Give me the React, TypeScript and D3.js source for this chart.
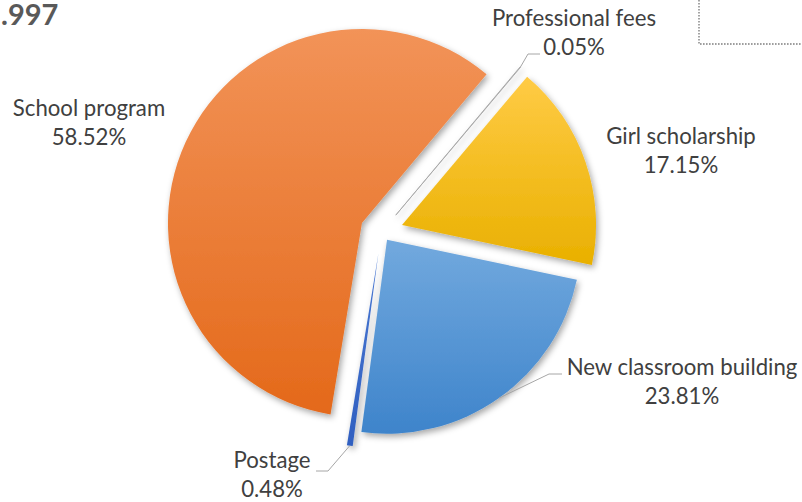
import React from "react";
import * as d3 from "d3";

const categories = ["Postage", "School program", "Professional fees", "Girl scholarship", "New classroom building"];
const values = [0.48, 58.52, 0.05, 17.15, 23.81];
const pctLabels = ["0.48%", "58.52%", "0.05%", "17.15%", "23.81%"];
const titleText = ".997";
const explode = [22, 21.6, 22, 21.6, 9.4];
const colorsTop = ["#4A78D2", "#F29358", "#B8B8B8", "#FFCB45", "#72A9DE"];
const colorsBottom = ["#2F5FC0", "#E4691A", "#9A9A9A", "#E9B000", "#3E84CB"];

// label layout (center x, baseline of first line)
const labelPos = [
  { x: 272, y: 468 },
  { x: 89, y: 116 },
  { x: 574, y: 26 },
  { x: 681, y: 144 },
  { x: 682, y: 375 },
];
// leader line elbows (elbow point, end point) or null
const leaders: ([number, number, number, number] | null)[] = [
  [328, 471, 316, 471],
  null,
  [528, 54, 540, 54],
  null,
  [549, 374, 562, 374],
];

const W = 802;
const H = 502;
const CX = 381.6;
const CY = 232;
const R = 194;
const START = (187.6 * Math.PI) / 180;

export default function App() {
  const pie = d3
    .pie<number>()
    .sort(null)
    .value((d) => d)
    .startAngle(START)
    .endAngle(START + 2 * Math.PI);
  const arcs = pie(values);
  const arc = d3.arc<d3.PieArcDatum<number>>().innerRadius(0).outerRadius(R);
  const font = "Lato, 'Open Sans', sans-serif";
  const fs = 22.2;

  return (
    <svg width={W} height={H} style={{ position: "absolute", left: 0, top: 0, background: "#fff" }}>
      <defs>
        {arcs.map((a, i) => (
          <linearGradient key={i} id={`g${i}`} x1="0" y1="0" x2="0" y2="1">
            <stop offset="0%" stopColor={colorsTop[i]} />
            <stop offset="100%" stopColor={colorsBottom[i]} />
          </linearGradient>
        ))}
        <filter id="sh" x="-20%" y="-20%" width="140%" height="140%">
          <feDropShadow dx="2" dy="3" stdDeviation="3" floodColor="#000" floodOpacity="0.35" />
        </filter>
      </defs>
      <text x={1} y={25} textAnchor="start" fontFamily={font} fontWeight="bold" fontSize={29} fill="#595959">
        {titleText}
      </text>
      <path d="M699,0 L699,44 L802,44" fill="none" stroke="#7F7F7F" strokeWidth={1.4} strokeDasharray="1.6 1.4" />
      <g transform={`translate(${CX},${CY})`}>
        {arcs.map((a, i) => {
          const mid = (a.startAngle + a.endAngle) / 2;
          const dx = Math.sin(mid) * explode[i];
          const dy = -Math.cos(mid) * explode[i];
          return (
            <path
              key={i}
              d={arc(a) || ""}
              transform={`translate(${dx},${dy})`}
              fill={`url(#g${i})`}
              stroke={i === 2 ? "#A5A5A5" : "none"}
              strokeWidth={i === 2 ? 0.8 : 0}
              filter="url(#sh)"
            />
          );
        })}
        {arcs.map((a, i) => {
          const lead = leaders[i];
          if (!lead) return null;
          const mid = (a.startAngle + a.endAngle) / 2;
          const rr = R + explode[i];
          const px = Math.sin(mid) * rr;
          const py = -Math.cos(mid) * rr;
          return (
            <polyline
              key={`l${i}`}
              points={`${px},${py} ${lead[0] - CX},${lead[1] - CY} ${lead[2] - CX},${lead[3] - CY}`}
              fill="none"
              stroke="#A6A6A6"
              strokeWidth={1}
            />
          );
        })}
      </g>
      {categories.map((c, i) => (
        <text key={c} x={labelPos[i].x} y={labelPos[i].y} textAnchor="middle" fontFamily={font} fontSize={fs} fill="#404040">
          <tspan x={labelPos[i].x}>{c}</tspan>
          <tspan x={labelPos[i].x} dy={29}>
            {pctLabels[i]}
          </tspan>
        </text>
      ))}
    </svg>
  );
}
